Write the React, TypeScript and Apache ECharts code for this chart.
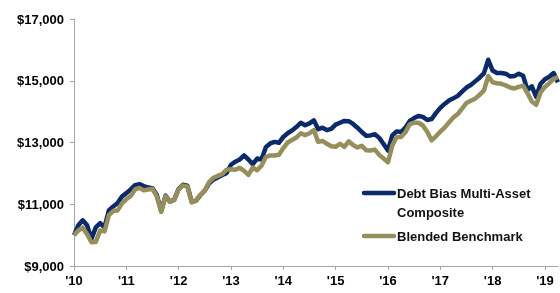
import React, { useEffect, useRef } from "react";
import * as echarts from "echarts";

const composite = [
  10000, 10320, 10480, 10320, 9880, 10250, 10390, 10250, 10800, 10930, 11040, 11250,
  11360, 11480, 11620, 11650, 11590, 11540, 11520, 11300, 10780, 11280, 11080, 11150,
  11500, 11630, 11600, 11080, 11120, 11300, 11440, 11680, 11800, 11870, 11950, 12010,
  12280, 12380, 12450, 12580, 12450, 12300, 12480, 12450, 12850, 12970, 13020, 12990,
  13180, 13300, 13390, 13500, 13640, 13560, 13620, 13720, 13430, 13480, 13400, 13440,
  13580, 13640, 13700, 13690, 13600, 13480, 13340, 13220, 13230, 13270, 13150, 12950,
  12740, 13230, 13360, 13340, 13480, 13700, 13790, 13860, 13830, 13730, 13760, 13950,
  14120, 14250, 14360, 14430, 14510, 14650, 14780, 14860, 14980, 15100, 15240, 15680,
  15330, 15250, 15250, 15230, 15140, 15150, 15230, 15160, 14700, 14820, 14480, 14900,
  15050, 15130, 15250, 14950,
];

const benchmark = [
  10000, 10150, 10240, 10030, 9770, 9780, 10150, 10120, 10650, 10780, 10800, 11030,
  11160, 11270, 11480, 11530, 11450, 11480, 11500, 11250, 10750, 11260, 11080, 11150,
  11480, 11610, 11580, 11060, 11130, 11300, 11450, 11720, 11860, 11920, 11980, 12120,
  12130, 12120, 12180, 12080, 11950, 12190, 12100, 12250, 12530, 12580, 12580, 12600,
  12820, 13000, 13080, 13160, 13300, 13240, 13300, 13400, 13020, 13050, 12960, 12880,
  12860, 12960, 12860, 13040, 12920, 12840, 12890, 12750, 12740, 12770, 12600, 12480,
  12360, 12900, 13180, 13180, 13330, 13590, 13640, 13640, 13550, 13350, 13070, 13200,
  13350, 13480, 13650, 13810, 13920, 14100, 14280, 14350, 14420, 14540, 14680, 15150,
  14950, 14920, 14900, 14850, 14780, 14750, 14800, 14840, 14600, 14330, 14220, 14620,
  14800, 14920, 15060, 15120,
];

const months = composite.map((_, i) => {
  const y = 2010 + Math.floor(i / 12);
  const m = (i % 12) + 1;
  return `${y}-${m < 10 ? "0" + m : m}`;
});

const yTicks = [9000, 11000, 13000, 15000, 17000];
const seriesNames = ["Debt Bias Multi-Asset\nComposite", "Blended Benchmark"];
const colors = ["#0B2A6A", "#978F5B"];

const FONT = "'Liberation Sans', Arial, sans-serif";

export default function App() {
  const ref = useRef<HTMLDivElement>(null);
  useEffect(() => {
    if (!ref.current) return;
    const chart = echarts.init(ref.current, undefined, { renderer: "svg" });
    chart.setOption({
      animation: false,
      grid: { left: 74, right: 2, top: 19, bottom: 27, containLabel: false },
      xAxis: {
        type: "category",
        data: months,
        boundaryGap: false,
        axisLine: { lineStyle: { color: "#A6A6A6", width: 1 } },
        axisTick: {
          show: true,
          length: 4,
          interval: (i: number) => i % 12 === 0,
          lineStyle: { color: "#A6A6A6" },
        },
        axisLabel: {
          interval: (i: number) => i % 12 === 0,
          formatter: (v: string) => "'" + v.slice(2, 4),
          color: "#000",
          fontFamily: FONT,
          fontWeight: "bold",
          fontSize: 13,
          margin: 8,
        },
        splitLine: { show: false },
      },
      yAxis: {
        type: "value",
        min: yTicks[0],
        max: yTicks[yTicks.length - 1],
        interval: 2000,
        axisLine: { show: true, lineStyle: { color: "#A6A6A6", width: 1 } },
        axisTick: { show: true, length: 4, lineStyle: { color: "#A6A6A6" } },
        axisLabel: {
          formatter: (v: number) => "$" + v.toLocaleString("en-US"),
          color: "#000",
          fontFamily: FONT,
          fontWeight: "bold",
          fontSize: 13,
          margin: 10,
        },
        splitLine: { show: false },
      },
      series: [
        {
          name: seriesNames[0],
          type: "line",
          data: composite,
          showSymbol: false,
          symbol: "none",
          lineStyle: { color: colors[0], width: 4.5, join: "round" },
          itemStyle: { color: colors[0] },
          z: 2,
        },
        {
          name: seriesNames[1],
          type: "line",
          data: benchmark,
          showSymbol: false,
          symbol: "none",
          lineStyle: { color: colors[1], width: 4.5, join: "round" },
          itemStyle: { color: colors[1] },
          z: 3,
        },
      ],
      graphic: [
        {
          type: "line",
          shape: { x1: 364, y1: 193, x2: 394, y2: 193 },
          style: { stroke: colors[0], lineWidth: 4.5, lineCap: "round" },
        },
        {
          type: "text",
          x: 397,
          y: 183.5,
          style: {
            text: seriesNames[0],
            fontFamily: FONT,
            fontWeight: "bold",
            fontSize: 13,
            lineHeight: 19,
            fill: "#111",
            verticalAlign: "top",
          },
        },
        {
          type: "line",
          shape: { x1: 364, y1: 236, x2: 394, y2: 236 },
          style: { stroke: colors[1], lineWidth: 4.5, lineCap: "round" },
        },
        {
          type: "text",
          x: 397,
          y: 236,
          style: {
            text: seriesNames[1],
            fontFamily: FONT,
            fontWeight: "bold",
            fontSize: 13,
            fill: "#111",
            verticalAlign: "middle",
          },
        },
      ],
    });
    return () => chart.dispose();
  }, []);
  return (
    <div
      ref={ref}
      style={{ position: "fixed", left: 0, top: 0, width: 560, height: 293 }}
    />
  );
}
